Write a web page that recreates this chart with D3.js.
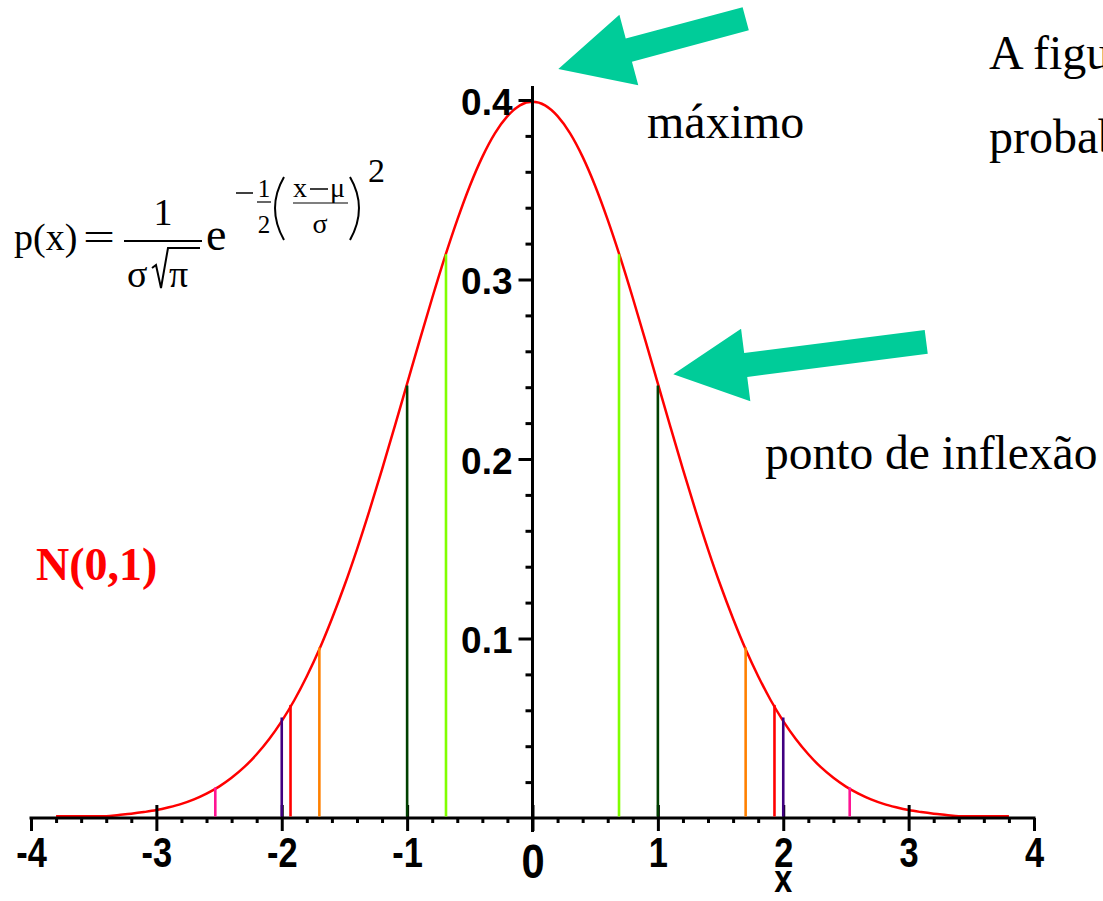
<!DOCTYPE html>
<html>
<head>
<meta charset="utf-8">
<script src="https://cdn.jsdelivr.net/npm/d3@7"></script>
<style>
  html, body { margin: 0; padding: 0; background: #fff; overflow: hidden; }
  svg { display: block; }
  .serif { font-family: "Liberation Serif", "Times New Roman", serif; fill: #000; }
</style>
</head>
<body>
<svg id="chart" width="1103" height="901"></svg>
<script>
// ---- data ----
const xMajor = [-4, -3, -2, -1, 0, 1, 2, 3, 4];
const xMinor = [-3.8, -3.6, -3.4, -3.2, -2.8, -2.6, -2.4, -2.2, -1.8, -1.6, -1.4, -1.2,
                -0.8, -0.6, -0.4, -0.2, 0.2, 0.4, 0.6, 0.8, 1.2, 1.4, 1.6, 1.8,
                2.2, 2.4, 2.6, 2.8, 3.2, 3.4, 3.6, 3.8];
const yMajor = [0.1, 0.2, 0.3, 0.4];
const yMinor = [0.02, 0.04, 0.06, 0.08, 0.12, 0.14, 0.16, 0.18, 0.22, 0.24, 0.26, 0.28,
                0.32, 0.34, 0.36, 0.38];

// density curve p(x) of N(0,1)
const xGrid = [-3.8, -3.7, -3.6, -3.5, -3.4, -3.3, -3.2, -3.1, -3.0, -2.9, -2.8, -2.7, -2.6,
               -2.5, -2.4, -2.3, -2.2, -2.1, -2.0, -1.9, -1.8, -1.7, -1.6, -1.5, -1.4, -1.3,
               -1.2, -1.1, -1.0, -0.9, -0.8, -0.7, -0.6, -0.5, -0.4, -0.3, -0.2, -0.1, 0.0,
               0.1, 0.2, 0.3, 0.4, 0.5, 0.6, 0.7, 0.8, 0.9, 1.0, 1.1, 1.2, 1.3,
               1.4, 1.5, 1.6, 1.7, 1.8, 1.9, 2.0, 2.1, 2.2, 2.3, 2.4, 2.5, 2.6,
               2.7, 2.8, 2.9, 3.0, 3.1, 3.2, 3.3, 3.4, 3.5, 3.6, 3.7, 3.8];
const density = [0.001, 0.001, 0.001, 0.001, 0.001, 0.0017, 0.0024, 0.0033, 0.0044, 0.006, 0.0079, 0.0104, 0.0136,
                 0.0175, 0.0224, 0.0283, 0.0355, 0.044, 0.054, 0.0656, 0.079, 0.094, 0.111, 0.1295, 0.1497, 0.1714,
                 0.1942, 0.2179, 0.242, 0.2661, 0.2897, 0.3123, 0.3332, 0.3521, 0.3683, 0.3814, 0.391, 0.397, 0.399,
                 0.397, 0.391, 0.3814, 0.3683, 0.3521, 0.3332, 0.3123, 0.2897, 0.2661, 0.242, 0.2179, 0.1942, 0.1714,
                 0.1497, 0.1295, 0.111, 0.094, 0.079, 0.0656, 0.054, 0.044, 0.0355, 0.0283, 0.0224, 0.0175, 0.0136,
                 0.0104, 0.0079, 0.006, 0.0044, 0.0033, 0.0024, 0.0017, 0.001, 0.001, 0.001, 0.001, 0.001];

// vertical marker lines under the curve
const markerX = [-2.53, -2.0, -1.93, -1.7, -1.0, -0.69, 0.69, 1.0, 1.7, 1.93, 2.0, 2.53];
const markerY = [0.017, 0.056, 0.063, 0.095, 0.241, 0.314, 0.314, 0.241, 0.095, 0.063, 0.056, 0.017];
const markerColors = ["#ff1493", "#400080", "#ff0000", "#ff8000", "#004000", "#80ff00",
                      "#80ff00", "#004000", "#ff8000", "#ff0000", "#400080", "#ff1493"];

// annotation arrows: tip in data units, length and angle in px / degrees
const arrowTipX = [0.206, 1.123];
const arrowTipY = [0.4173, 0.2472];
const arrowLen = [194, 255];
const arrowAngle = [-15.0, -7.3];

// ---- drawing ----
const svg = d3.select("#chart");
const x = d3.scaleLinear().domain([-4, 4]).range([31, 1034]);
const y = d3.scaleLinear().domain([0, 0.4]).range([818, 100]);

const tickFont = '"Liberation Sans", Arial, sans-serif';

// curve
const line = d3.line()
  .x((d, i) => x(xGrid[i]))
  .y(d => y(d))
  .curve(d3.curveMonotoneX);
svg.append("path")
  .datum(density)
  .attr("d", line)
  .attr("fill", "none")
  .attr("stroke", "#ff0000")
  .attr("stroke-width", 2.5);

// x axis: minor ticks
const gxMinor = svg.append("g").attr("transform", `translate(0,${y(0)})`)
  .call(d3.axisBottom(x).tickValues(xMinor).tickSize(5).tickSizeOuter(0).tickFormat(""));
gxMinor.select(".domain").remove();
gxMinor.selectAll(".tick line").attr("stroke", "#000").attr("stroke-width", 3);

// x axis: major ticks + labels (condensed bold digits)
const gx = svg.append("g").attr("transform", `translate(0,${y(0)})`)
  .call(d3.axisBottom(x).tickValues(xMajor).tickSize(13).tickSizeOuter(0).tickFormat(d => String(d)));
gx.select(".domain").remove();
gx.selectAll(".tick line")
  .attr("stroke", "#000").attr("stroke-width", 3)
  .attr("y1", d => (Math.abs(d) === 4 ? 0 : -13));
gx.selectAll(".tick text")
  .attr("dy", null)
  .attr("y", d => (d === 0 ? 60 : 49))
  .attr("transform", d => (d === 0 ? "scale(0.85,1)" : "scale(0.8,1)"))
  .style("font-family", tickFont)
  .style("font-weight", "bold")
  .style("font-size", d => (d === 0 ? "49px" : "43px"))
  .attr("fill", "#000");
svg.append("line")
  .attr("x1", x(-4) - 1.5).attr("x2", x(4) + 1.5)
  .attr("y1", y(0)).attr("y2", y(0))
  .attr("stroke", "#000").attr("stroke-width", 3);

// x axis title
svg.append("text")
  .attr("transform", `translate(${x(2)},892) scale(0.85,1)`)
  .attr("text-anchor", "middle")
  .style("font-family", tickFont).style("font-weight", "bold").style("font-size", "38px")
  .text("x");

// y axis: minor ticks
const gyMinor = svg.append("g").attr("transform", `translate(${x(0)},0)`)
  .call(d3.axisLeft(y).tickValues(yMinor).tickSize(7).tickSizeOuter(0).tickFormat(""));
gyMinor.select(".domain").remove();
gyMinor.selectAll(".tick line").attr("stroke", "#000").attr("stroke-width", 3);

// y axis: major ticks + labels
const gy = svg.append("g").attr("transform", `translate(${x(0)},0)`)
  .call(d3.axisLeft(y).tickValues(yMajor).tickSize(14).tickSizeOuter(0).tickFormat(d3.format(".1f")));
gy.select(".domain").remove();
gy.selectAll(".tick line").attr("stroke", "#000").attr("stroke-width", 3);
gy.selectAll(".tick text")
  .attr("x", -20).attr("dy", null).attr("y", 14)
  .style("font-family", tickFont)
  .style("font-weight", "bold")
  .style("font-size", "37px")
  .attr("fill", "#000");
svg.append("line")
  .attr("x1", x(0)).attr("x2", x(0))
  .attr("y1", 86).attr("y2", 832)
  .attr("stroke", "#000").attr("stroke-width", 3);

// vertical marker lines
svg.selectAll("line.marker")
  .data(markerX)
  .join("line")
  .attr("class", "marker")
  .attr("x1", d => x(d)).attr("x2", d => x(d))
  .attr("y1", y(0) - 1.5)
  .attr("y2", (d, i) => y(markerY[i]))
  .attr("stroke", (d, i) => markerColors[i])
  .attr("stroke-width", 2.6);

// arrows
function arrowPoints(len) {
  const headLen = 73, headHalf = 36.5, shaftHalf = 12;
  return [[0, 0], [headLen, -headHalf], [headLen, -shaftHalf], [len, -shaftHalf],
          [len, shaftHalf], [headLen, shaftHalf], [headLen, headHalf]];
}
svg.selectAll("polygon.arrow")
  .data(arrowTipX)
  .join("polygon")
  .attr("class", "arrow")
  .attr("points", (d, i) => arrowPoints(arrowLen[i]).map(p => p.join(",")).join(" "))
  .attr("transform", (d, i) => `translate(${x(d)},${y(arrowTipY[i])}) rotate(${arrowAngle[i]})`)
  .attr("fill", "#00cc99");

// annotations
svg.append("text").attr("class", "serif")
  .attr("x", 647).attr("y", 138).style("font-size", "48px").text("máximo");
svg.append("text").attr("class", "serif")
  .attr("x", 765).attr("y", 469).style("font-size", "47.5px").text("ponto de inflexão");
svg.append("text").attr("class", "serif")
  .attr("x", 989).attr("y", 69).style("font-size", "48px").text("A figura");
svg.append("text").attr("class", "serif")
  .attr("x", 989).attr("y", 153).style("font-size", "48px").text("probabilidade");

svg.append("text").attr("class", "serif")
  .attr("x", 36).attr("y", 580)
  .style("font-size", "46px").style("font-weight", "bold").style("fill", "#ff0000")
  .text("N(0,1)");

// formula p(x)
const f = svg.append("g").attr("class", "formula");
const ft = (tx, ty, size, str, anchor) => f.append("text").attr("class", "serif")
  .attr("x", tx).attr("y", ty).attr("text-anchor", anchor || "start")
  .style("font-size", size + "px").text(str);
const fl = (x1, y1, x2, y2, w) => f.append("line")
  .attr("x1", x1).attr("y1", y1).attr("x2", x2).attr("y2", y2)
  .attr("stroke", "#000").attr("stroke-width", w);
const fp = (dpath, w) => f.append("path").attr("d", dpath)
  .attr("fill", "none").attr("stroke", "#000").attr("stroke-width", w);

ft(14, 250, 38, "p(x)");
ft(83, 250, 38, "=").attr("textLength", 32).attr("lengthAdjust", "spacingAndGlyphs");
ft(163, 225, 38, "1", "middle");
fl(124, 241, 202, 241, 2);
ft(127, 287, 38, "σ");
fp("M152,268 L156,265 L161,288 L168,248 L200,248", 2);
ft(169, 287, 38, "π");
ft(206, 250, 46, "e");
fl(236, 193, 253, 193, 1.5);
ft(264, 197, 25, "1", "middle");
fl(257, 202, 271, 202, 1.2);
ft(264, 233, 25, "2", "middle");
fp("M284,177 Q266,208 284,240", 2);
ft(293, 197, 28, "x");
fl(310, 189, 328, 189, 1.5);
ft(330, 197, 28, "μ");
fl(293, 203, 348, 203, 1.2);
ft(320, 233, 28, "σ", "middle");
fp("M350,177 Q368,208 350,240", 2);
ft(368, 182, 34, "2");
</script>
</body>
</html>
